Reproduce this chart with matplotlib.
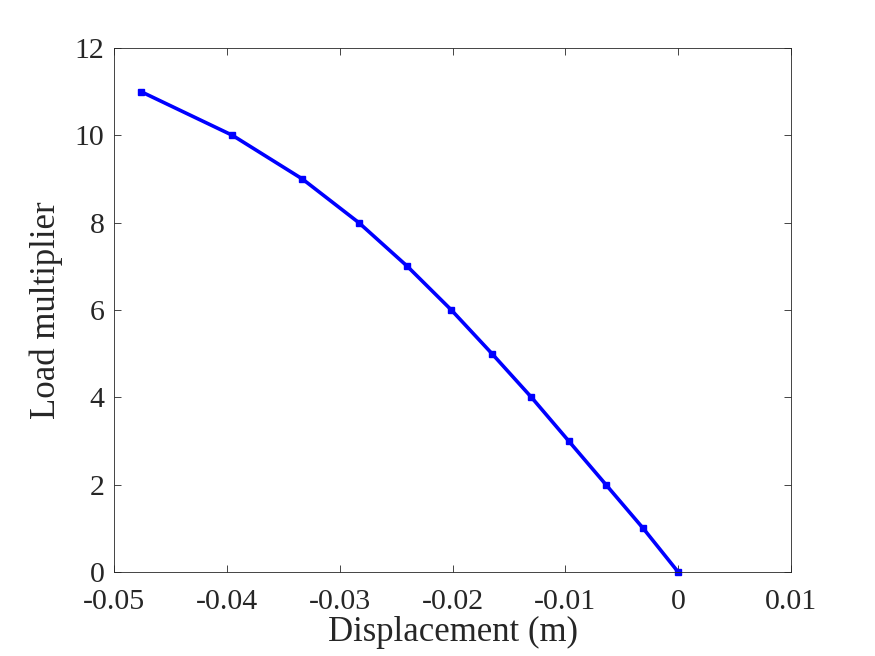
import matplotlib
matplotlib.use('Agg')
import matplotlib.pyplot as plt

# load-displacement curve
displacement = [-0.0476, -0.0395, -0.0333, -0.0283, -0.0240, -0.0201,
                -0.0165, -0.0130, -0.0097, -0.0064, -0.0031, 0.0]
load_mult = [11, 10, 9, 8, 7, 6, 5, 4, 3, 2, 1, 0]

xticks = [-0.05, -0.04, -0.03, -0.02, -0.01, 0, 0.01]
xticklabels = ['-0.05', '-0.04', '-0.03', '-0.02', '-0.01', '0', '0.01']
yticks = [0, 2, 4, 6, 8, 10, 12]

plt.rcParams['font.family'] = ['Liberation Serif', 'DejaVu Serif']
txt = '#262626'

fig = plt.figure(figsize=(8.75, 6.56), dpi=100)
ax = fig.add_axes([0.1303, 0.128, 0.7737, 0.7988])

ax.plot(displacement, load_mult, '-s', color='blue', linewidth=2.6,
        markersize=4.5, markerfacecolor='blue', markeredgecolor='blue',
        clip_on=False)

ax.set_xlim(-0.05, 0.01)
ax.set_ylim(0, 12)
ax.set_xticks(xticks)
ax.set_xticklabels(xticklabels)
ax.set_yticks(yticks)
ax.tick_params(direction='in', top=True, right=True, length=5,
               width=0.6, labelsize=21.5, colors=txt)
ax.tick_params(axis='x', pad=12)
ax.tick_params(axis='y', pad=7)
for s in ax.spines.values():
    s.set_linewidth(0.6)
    s.set_color(txt)

ax.set_xlabel('Displacement (m)', fontsize=25, color=txt, labelpad=1)
ax.set_ylabel('Load multiplier', fontsize=25, color=txt, labelpad=8)

fig.savefig('out.png', dpi=100)
